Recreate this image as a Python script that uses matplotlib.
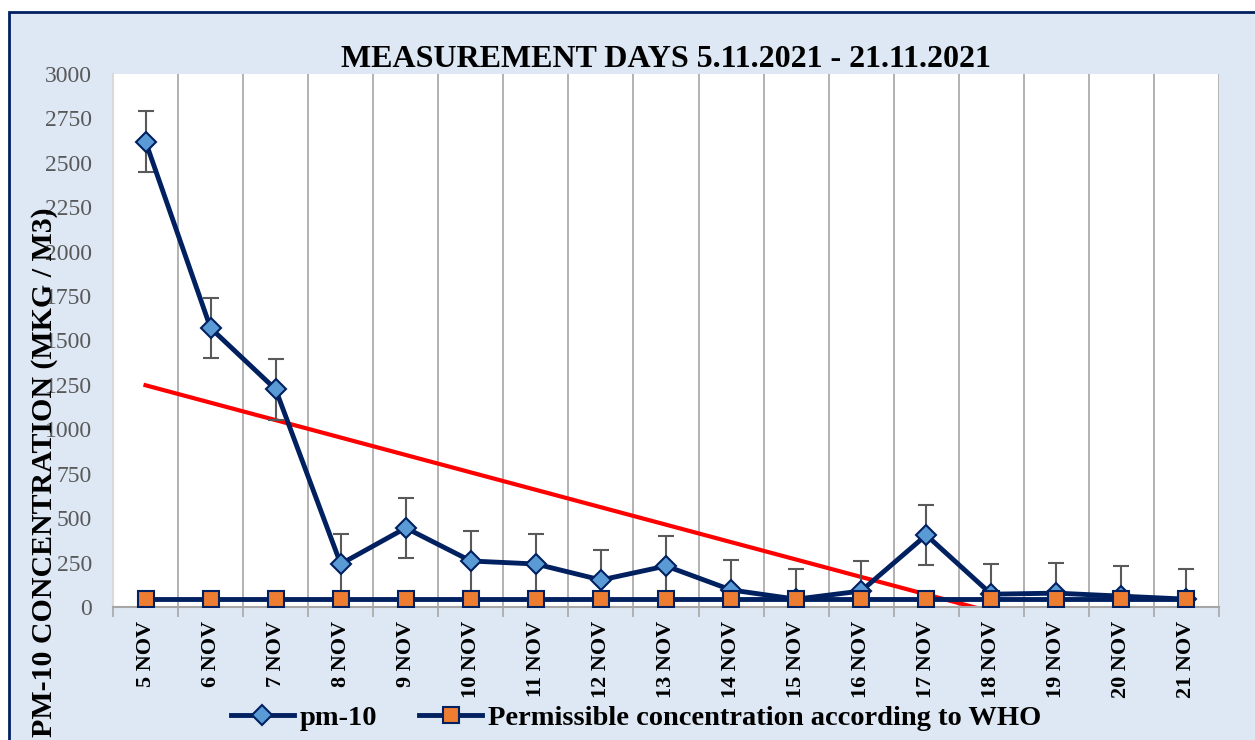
import numpy as np
import matplotlib
matplotlib.use('Agg')
from matplotlib import pyplot as plt
from matplotlib.patches import Rectangle

days = ['5 NOV', '6 NOV', '7 NOV', '8 NOV', '9 NOV', '10 NOV', '11 NOV', '12 NOV',
        '13 NOV', '14 NOV', '15 NOV', '16 NOV', '17 NOV', '18 NOV', '19 NOV',
        '20 NOV', '21 NOV']
pm10 = [2620, 1570, 1225, 242, 445, 259, 242, 152, 231, 96, 44, 90, 405, 72, 78, 61, 44]
pm10_err = [170] * 17
who_limit = [45] * 17
y_ticks = list(range(0, 3001, 250))

navy = '#002060'
plt.rcParams['font.family'] = ['Liberation Serif', 'DejaVu Serif']

fig = plt.figure(figsize=(12.55, 7.4), dpi=100)
fig.patch.set_facecolor('white')
# chart area with dark border (left and top edges visible)
fig.patches.append(Rectangle((9 / 1255, -0.05), 1.1, 1 - 12 / 740 + 0.05,
                             transform=fig.transFigure, facecolor='#DDE8F4',
                             edgecolor=navy, linewidth=2, zorder=-10))
ax = fig.add_axes([113 / 1255, 1 - 607 / 740, (1219 - 113) / 1255, (607 - 74) / 740])
ax.set_facecolor('white')

x = np.arange(1, len(days) + 1)

# linear trend of pm-10
k, b = np.polyfit(x, pm10, 1)
ax.plot(x, k * x + b, color='#FF0000', linewidth=3, zorder=2)

ax.errorbar(x, pm10, yerr=pm10_err, fmt='none', ecolor='#595959', elinewidth=1.5,
            capsize=6, capthick=1.5, zorder=3)
ax.plot(x, pm10, color=navy, linewidth=3.5, marker='D', markersize=10,
        markerfacecolor='#5B9BD5', markeredgecolor=navy, markeredgewidth=1.5,
        label='pm-10', zorder=4)
ax.plot(x, who_limit, color=navy, linewidth=3.5, marker='s', markersize=12,
        markerfacecolor='#ED7D31', markeredgecolor=navy, markeredgewidth=1.5,
        label='Permissible concentration according to WHO', zorder=5)

ax.set_xlim(0.5, len(days) + 0.5)
ax.set_ylim(0, 3000)
ax.set_yticks(y_ticks)
ax.tick_params(axis='y', length=0, labelsize=17, labelcolor='#595959', pad=15)
ax.set_xticks(x)
ax.set_xticklabels(days, rotation=90, fontsize=16, fontweight='bold')
ax.tick_params(axis='x', length=0, pad=10)
ax.set_xticks(np.arange(0.5, len(days) + 1), minor=True)
ax.tick_params(axis='x', which='minor', length=7, color='#A6A6A6', width=1.2)
ax.grid(axis='x', which='minor', color='#A6A6A6', linewidth=1.2)
for s in ['top', 'right']:
    ax.spines[s].set_visible(False)
ax.spines['left'].set_color('#D9D9D9')
ax.spines['left'].set_linewidth(1.5)
ax.spines['bottom'].set_color('#A6A6A6')
ax.spines['bottom'].set_linewidth(1.5)

ax.set_title('MEASUREMENT DAYS 5.11.2021 - 21.11.2021', fontsize=23, fontweight='bold',
             pad=-2)
fig.text(45 / 1255, 1 - 472 / 740, 'PM-10 CONCENTRATION (MKG / M3)', rotation=90,
         fontsize=21.5, fontweight='bold', ha='center', va='center')
fig.legend(loc='center', bbox_to_anchor=(636 / 1255, 1 - 718 / 740), ncol=2, frameon=False,
           prop={'size': 20.5, 'weight': 'bold'}, handlelength=2.2, columnspacing=1.5,
           handletextpad=0.2)

fig.savefig('out.png', dpi=100)
